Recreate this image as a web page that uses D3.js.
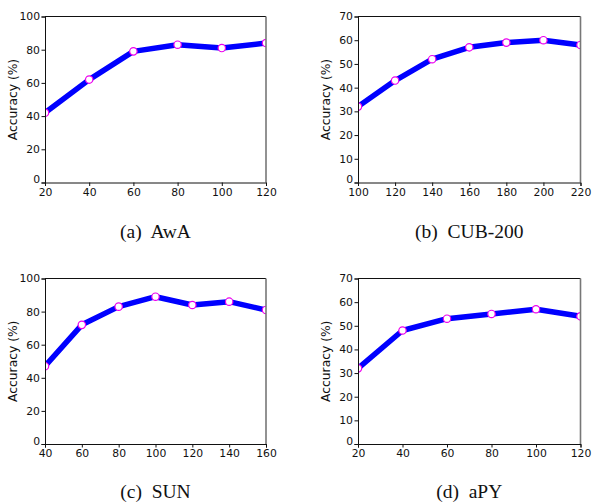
<!DOCTYPE html>
<html><head><meta charset="utf-8">
<script src="https://cdn.jsdelivr.net/npm/d3@7"></script>
<style>body{margin:0;background:#fff}svg{display:block}</style>
</head><body>
<svg id="c" width="593" height="504"></svg>
<script>
const xAwA = [20,40,60,80,100,120];
const yAwA = [42,62,79,83,81,84];
const xCUB = [100,120,140,160,180,200,220];
const yCUB = [32,43,52,57,59,60,58];
const xSUN = [40,60,80,100,120,140,160];
const ySUN = [47,72,83,89,84,86,81];
const xAPY = [20,40,60,80,100,120];
const yAPY = [32,48,53,55,57,54];
const yTicks100 = [0,20,40,60,80,100];
const yTicks70 = [0,10,20,30,40,50,60,70];
const captions = ["(a)  AwA","(b)  CUB-200","(c)  SUN","(d)  aPY"];

const panels = [
  {xs:xAwA, ys:yAwA, ymax:100, yt:yTicks100, box:[45,16.5,266,182.5], cap:captions[0], capY:238},
  {xs:xCUB, ys:yCUB, ymax:70, yt:yTicks70, box:[358,16.5,580.5,182.5], cap:captions[1], capY:238},
  {xs:xSUN, ys:ySUN, ymax:100, yt:yTicks100, box:[45,278.5,266,444], cap:captions[2], capY:498},
  {xs:xAPY, ys:yAPY, ymax:70, yt:yTicks70, box:[358,278.5,580.5,444], cap:captions[3], capY:498}
];
const svg = d3.select("#c");
panels.forEach((p,i)=>{
  const [x0,y0,x1,y1] = p.box;
  const x = d3.scaleLinear().domain([p.xs[0], p.xs[p.xs.length-1]]).range([x0,x1]);
  const y = d3.scaleLinear().domain([0,p.ymax]).range([y1,y0]);
  const g = svg.append("g");
  const cid = "clip"+i;
  svg.append("clipPath").attr("id",cid).append("rect").attr("x",x0).attr("y",y0).attr("width",x1-x0).attr("height",y1-y0);
  const data = p.xs.map((v,k)=>[v,p.ys[k]]);
  const pg = g.append("g").attr("clip-path",`url(#${cid})`);
  pg.append("path").datum(data).attr("d",d3.line().x(d=>x(d[0])).y(d=>y(d[1])))
    .attr("fill","none").attr("stroke","#0000ff").attr("stroke-width",5.5).attr("stroke-linejoin","round");
  pg.selectAll("circle").data(data).join("circle").attr("cx",d=>x(d[0])).attr("cy",d=>y(d[1]))
    .attr("r",3.7).attr("fill","#fff").attr("stroke","#ee00ee").attr("stroke-width",1.2);
  g.append("line").attr("x1",x0).attr("x2",x1).attr("y1",y0).attr("y2",y0).attr("stroke","#111").attr("stroke-width",1);
  g.append("line").attr("x1",x1).attr("x2",x1).attr("y1",y0).attr("y2",y1).attr("stroke","#777").attr("stroke-width",1.6);
  const xa = g.append("g").attr("transform",`translate(0,${y1})`)
    .call(d3.axisBottom(x).tickValues(p.xs).tickFormat(d3.format("d")).tickSize(3.5).tickPadding(2));
  const ya = g.append("g").attr("transform",`translate(${x0},0)`)
    .call(d3.axisLeft(y).tickValues(p.yt).tickFormat(d3.format("d")).tickSize(3.5).tickPadding(1.5));
  [xa,ya].forEach(a=>{
    a.select(".domain").attr("stroke","#111");
    a.selectAll("text").attr("font-family","DejaVu Sans").attr("font-size","10.8px").attr("fill","#111");
    a.selectAll(".tick line").attr("stroke","#111");
  });
  ya.selectAll(".tick text").filter(d=>d===0).attr("dy","0em");
  g.append("text").attr("transform",`translate(${x0-28},${(y0+y1)/2}) rotate(-90)`)
    .attr("text-anchor","middle").attr("font-family","DejaVu Sans").attr("font-size","12.3px").attr("fill","#111")
    .text("Accuracy (%)");
  g.append("text").attr("x",(x0+x1)/2).attr("y",p.capY).attr("text-anchor","middle")
    .attr("font-family","Liberation Serif").attr("font-size","19.5px").attr("fill","#111").attr("xml:space","preserve")
    .style("white-space","pre").text(p.cap);
});
</script>
</body></html>
